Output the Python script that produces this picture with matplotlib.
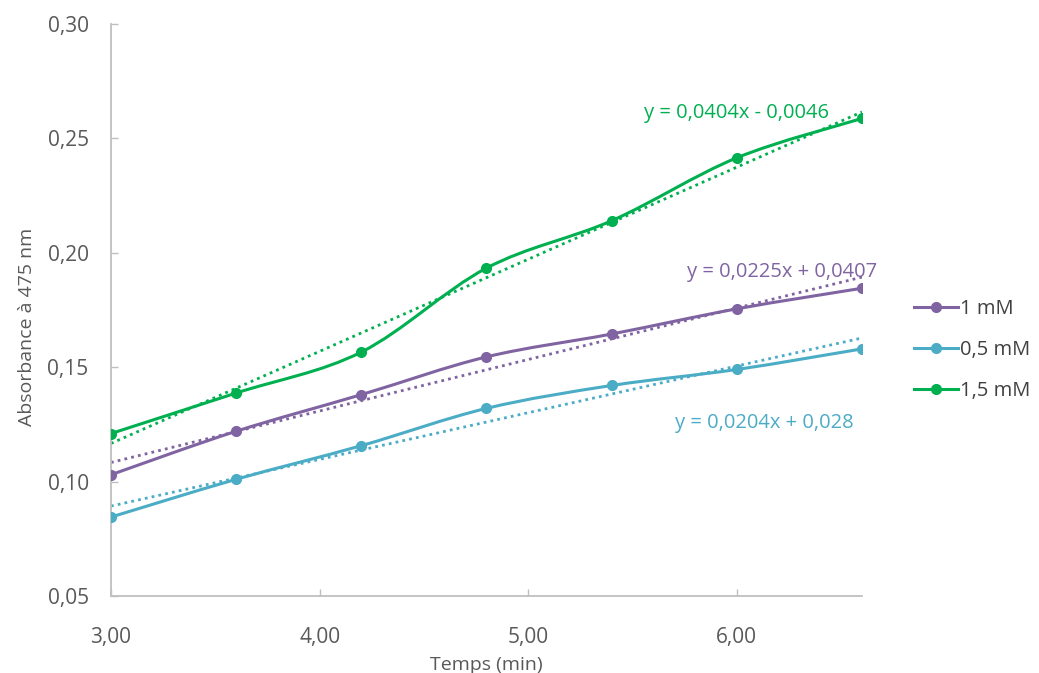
import numpy as np
import matplotlib.pyplot as plt
from matplotlib.path import Path
from matplotlib.patches import PathPatch

plt.rcParams['font.family'] = ['Open Sans', 'DejaVu Sans']

temps = [3.0, 3.6, 4.2, 4.8, 5.4, 6.0, 6.6]
abs_1mM = [0.103, 0.122, 0.138, 0.1545, 0.1645, 0.1755, 0.1845]
abs_05mM = [0.0845, 0.101, 0.1157, 0.132, 0.142, 0.149, 0.158]
abs_15mM = [0.121, 0.1387, 0.1566, 0.1933, 0.214, 0.2415, 0.2587]

series_names = ['1 mM', '0,5 mM', '1,5 mM']
equations = ['y = 0,0225x + 0,0407', 'y = 0,0204x + 0,028', 'y = 0,0404x - 0,0046']
colors = ['#8064A2', '#4BACC6', '#00B050']
eq_pos = [(6.215, 0.1916), (6.13, 0.1256), (6.0, 0.261)]


def smooth_path(x, y):
    # excel-like smoothed line: cubic bezier through each point
    x = np.asarray(x)
    y = np.asarray(y)
    n = len(x)
    verts = [(x[0], y[0])]
    codes = [Path.MOVETO]
    for i in range(n - 1):
        x0, y0 = (x[i - 1], y[i - 1]) if i > 0 else (x[i], y[i])
        x3, y3 = (x[i + 2], y[i + 2]) if i + 2 < n else (x[i + 1], y[i + 1])
        c1 = (x[i] + (x[i + 1] - x0) / 6, y[i] + (y[i + 1] - y0) / 6)
        c2 = (x[i + 1] - (x3 - x[i]) / 6, y[i + 1] - (y3 - y[i]) / 6)
        verts += [c1, c2, (x[i + 1], y[i + 1])]
        codes += [Path.CURVE4] * 3
    return Path(verts, codes)


fig = plt.figure(figsize=(10.39, 6.73), dpi=100)
ax = fig.add_axes([0.1068, 0.1144, 0.7228, 0.85])

handles = []
for vals, name, eq, col, pos in zip([abs_1mM, abs_05mM, abs_15mM], series_names,
                                    equations, colors, eq_pos):
    # trendline
    k, b = np.polyfit(temps, vals, 1)
    xt = np.array([temps[0], temps[-1]])
    ax.plot(xt, k * xt + b, linestyle=(0, (1, 1.5)), color=col, lw=2, zorder=2)
    # smoothed series
    ax.add_patch(PathPatch(smooth_path(temps, vals), facecolor='none',
                           edgecolor=col, lw=2.2, zorder=3))
    ax.plot(temps, vals, linestyle='none', marker='o', ms=7, color=col, zorder=4)
    handles.append(plt.Line2D([], [], color=col, lw=2.2, marker='o', ms=7))
    ax.text(pos[0], pos[1], eq, color=col, fontsize=14.5, ha='center', va='center',
            zorder=5)

ax.set_xlim(3.0, 6.6)
ax.set_ylim(0.05, 0.30)
ax.set_xticks([3, 4, 5, 6])
ax.set_xticklabels(['3,00', '4,00', '5,00', '6,00'])
ax.set_yticks([0.05, 0.10, 0.15, 0.20, 0.25, 0.30])
ax.set_yticklabels(['0,05', '0,10', '0,15', '0,20', '0,25', '0,30'])

for s in ['top', 'right']:
    ax.spines[s].set_visible(False)
for s in ['left', 'bottom']:
    ax.spines[s].set_color('#BFBFBF')
    ax.spines[s].set_linewidth(1.3)
ax.tick_params(direction='in', length=5, width=1, color='#BFBFBF',
               labelsize=15, labelcolor='#595959')
ax.tick_params(axis='x', pad=22)
ax.tick_params(axis='y', pad=16)

ax.set_xlabel('Temps (min)', fontsize=14, color='#595959', labelpad=6)
ax.set_ylabel('Absorbance à 475 nm', fontsize=14, color='#595959', labelpad=8, y=0.47)

ax.legend(handles, series_names, loc='center left', bbox_to_anchor=(1.045, 0.43),
          frameon=False, fontsize=14.5, labelcolor='#404040', handlelength=2.2,
          handletextpad=0.1, labelspacing=1.05)

fig.savefig('out.png', dpi=100)
